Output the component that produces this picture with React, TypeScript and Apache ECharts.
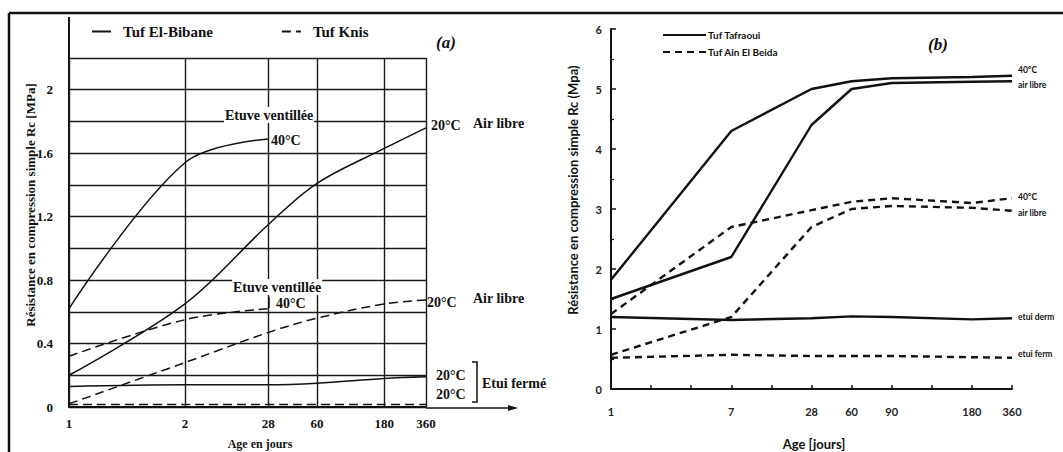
import React, { useEffect, useRef } from "react";
import * as echarts from "echarts";

// ---------- Panel (a) ----------
const agesA = [1, 2, 28, 60, 180, 360];
// location of each age tick along panel (a)'s non-uniform age axis
const axisPosA = [0, 1, 1.72, 2.14, 2.72, 3.08];
const bibane40 = [0.62, 1.54, 1.69]; // ages 1, 2, 28
const bibane20 = [0.2, 0.65, 1.15, 1.41, 1.63, 1.76];
const bibaneEtui = [0.13, 0.14, 0.14, 0.15, 0.18, 0.19];
const knis40 = [0.32, 0.55, 0.62]; // ages 1, 2, 28
const knis20 = [0.02, 0.28, 0.47, 0.56, 0.65, 0.675];
const knisEtui = [0.015, 0.015, 0.015, 0.015, 0.015, 0.015];

// ---------- Panel (b) ----------
const agesB = [1, 7, 28, 60, 90, 180, 360];
const tickLabelsB = ["1", "", "", "7", "", "28", "60", "90", "", "180", "360"];
const tafraoui40 = [1.82, 4.3, 5.0, 5.13, 5.18, 5.2, 5.22];
const tafraouiAir = [1.5, 2.2, 4.4, 5.0, 5.1, 5.12, 5.13];
const tafraouiEtui = [1.2, 1.15, 1.18, 1.21, 1.2, 1.16, 1.18];
const beida40 = [1.25, 2.7, 2.98, 3.12, 3.18, 3.1, 3.18];
const beidaAir = [0.57, 1.2, 2.7, 3.0, 3.05, 3.02, 2.97];
const beidaEtui = [0.52, 0.57, 0.55, 0.55, 0.55, 0.53, 0.52];

const SERIF = "'Liberation Serif', 'Times New Roman', serif";
const SANS = "Lato, 'Open Sans', sans-serif";

const posA = (age: number) => axisPosA[agesA.indexOf(age)];
const posB = (age: number) => tickLabelsB.indexOf(String(age));

const ptsA = (vals: number[]) => vals.map((v, i) => [posA(agesA[i]), v]);
const ptsB = (vals: number[]) => vals.map((v, i) => [posB(agesB[i]), v]);

export default function App() {
  const ref = useRef<HTMLDivElement>(null);
  useEffect(() => {
    if (!ref.current) return;
    const chart = echarts.init(ref.current, undefined, { renderer: "svg" });

    const lineA = (name: string, data: number[][], dashed: boolean, extra: any = {}) => ({
      type: "line",
      name,
      xAxisIndex: 0,
      yAxisIndex: 0,
      data,
      smooth: 0.35,
      symbol: "none",
      lineStyle: { color: "#111", width: 1.5, type: dashed ? [9, 5] : "solid" },
      itemStyle: { color: "#111" },
      z: 3,
      ...extra,
    });
    const lineB = (name: string, data: number[][], dashed: boolean) => ({
      type: "line",
      name,
      xAxisIndex: 1,
      yAxisIndex: 1,
      data,
      symbol: "none",
      lineStyle: { color: "#111", width: 2.4, type: dashed ? [7, 5] : "solid" },
      itemStyle: { color: "#111" },
      z: 3,
    });

    const txt = (text: string, x: number, y: number, style: any = {}, extra: any = {}) => ({
      type: "text",
      x,
      y,
      z: 50,
      style: {
        text,
        fill: "#111",
        verticalAlign: "middle",
        fontFamily: SERIF,
        fontWeight: "bold",
        fontSize: 14,
        ...style,
      },
      ...extra,
    });
    const ln = (x1: number, y1: number, x2: number, y2: number, w = 2) => ({
      type: "line",
      z: 50,
      shape: { x1, y1, x2, y2 },
      style: { stroke: "#111", lineWidth: w },
    });

    const option: any = {
      animation: false,
      backgroundColor: "#fff",
      grid: [
        { left: 69, top: 58, width: 357, height: 349 },
        { left: 611, top: 29, width: 401, height: 360 },
      ],
      legend: [
        {
          left: 86,
          top: 19,
          itemWidth: 19,
          itemHeight: 10,
          itemGap: 68,
          data: ["Tuf El-Bibane", "Tuf Knis"],
          itemStyle: { opacity: 0 },
          textStyle: { fontFamily: SERIF, fontWeight: "bold", fontSize: 15, color: "#111", padding: [0, 0, 0, 7] },
        },
        {
          left: 657,
          top: 25,
          orient: "vertical",
          itemWidth: 43,
          itemHeight: 10,
          itemGap: 7,
          data: ["Tuf Tafraoui", "Tuf Ain El Beida"],
          itemStyle: { opacity: 0 },
          textStyle: { fontFamily: SANS, fontWeight: "bold", fontSize: 10, color: "#111", padding: [0, 0, 0, -3] },
        },
      ],
      xAxis: [
        {
          type: "value",
          gridIndex: 0,
          min: 0,
          max: axisPosA[axisPosA.length - 1],
          axisLine: { show: true, lineStyle: { color: "#111", width: 2 } },
          axisTick: { show: false },
          splitLine: { show: false },
          axisLabel: {
            customValues: axisPosA,
            formatter: (v: number) => {
              const i = axisPosA.findIndex((p) => Math.abs(p - v) < 1e-6);
              return i >= 0 ? String(agesA[i]) : "";
            },
            margin: 10,
            color: "#111",
            fontFamily: SERIF,
            fontWeight: "bold",
            fontSize: 13,
          },
        },
        {
          type: "value",
          gridIndex: 1,
          min: 0,
          max: tickLabelsB.length - 1,
          interval: 1,
          axisLine: { show: true, lineStyle: { color: "#111", width: 2 } },
          axisTick: { show: true, inside: true, length: 4, lineStyle: { color: "#111", width: 1.5 } },
          splitLine: { show: false },
          axisLabel: {
            formatter: (v: number) => tickLabelsB[Math.round(v)] ?? "",
            margin: 17,
            color: "#222",
            fontFamily: SANS,
            fontWeight: "bold",
            fontSize: 11,
          },
        },
      ],
      yAxis: [
        {
          type: "value",
          gridIndex: 0,
          min: 0,
          max: 2.2,
          interval: 0.2,
          axisLine: { show: true, lineStyle: { color: "#111", width: 2 } },
          axisTick: { show: false },
          splitLine: { show: true, lineStyle: { color: "#1a1a1a", width: 1.4 } },
          axisLabel: {
            formatter: (v: number) => {
              const t = Math.round(v * 10);
              return t % 4 === 0 && t <= 20 ? String(t / 10) : "";
            },
            margin: 16,
            color: "#111",
            fontFamily: SERIF,
            fontWeight: "bold",
            fontSize: 13,
          },
        },
        {
          type: "value",
          gridIndex: 1,
          min: 0,
          max: 6,
          interval: 1,
          axisLine: { show: true, lineStyle: { color: "#111", width: 2 } },
          axisTick: { show: true, inside: true, length: 5, lineStyle: { color: "#111", width: 1.5 } },
          minorTick: { show: true, splitNumber: 2, length: 3, lineStyle: { color: "#111", width: 1.2 } },
          splitLine: { show: false },
          axisLabel: {
            margin: 9,
            color: "#222",
            fontFamily: SANS,
            fontWeight: "bold",
            fontSize: 11,
          },
        },
      ],
      series: [
        lineA("Tuf El-Bibane", ptsA(bibane20), false, {
          markLine: {
            silent: true,
            symbol: "none",
            label: { show: false },
            lineStyle: { color: "#1a1a1a", width: 1.4, type: "solid" },
            data: axisPosA.map((p) => ({ xAxis: p })),
          },
        }),
        lineA("Tuf El-Bibane", ptsA(bibane40), false),
        lineA("Tuf El-Bibane", ptsA(bibaneEtui), false),
        lineA("Tuf Knis", ptsA(knis40), true),
        lineA("Tuf Knis", ptsA(knis20), true),
        lineA("Tuf Knis", ptsA(knisEtui), true),
        lineB("Tuf Tafraoui", ptsB(tafraoui40), false),
        lineB("Tuf Tafraoui", ptsB(tafraouiAir), false),
        lineB("Tuf Tafraoui", ptsB(tafraouiEtui), false),
        lineB("Tuf Ain El Beida", ptsB(beida40), true),
        lineB("Tuf Ain El Beida", ptsB(beidaAir), true),
        lineB("Tuf Ain El Beida", ptsB(beidaEtui), true),
      ],
      graphic: [
        // outer frame
        ln(9, 13, 1063, 13, 2.5),
        ln(9, 13, 9, 452, 2.5),
        // panel (a) axis extensions
        ln(69, 58, 69, 17, 2),
        ln(426, 408, 512, 408, 1.6),
        {
          type: "polygon",
          z: 50,
          shape: { points: [[518, 408], [508, 405], [508, 411]] },
          style: { fill: "#111" },
        },
        // panel (a) annotations
        txt("(a)", 436, 42, { fontStyle: "italic", fontSize: 17 }),
        txt("Etuve ventillée", 224, 115, { backgroundColor: "#fff", padding: [1, 1] }),
        txt("40°C", 271, 140),
        txt("20°C", 431, 125),
        txt("Air libre", 473, 123),
        txt("Etuve ventillée", 232, 287, { backgroundColor: "#fff", padding: [1, 1] }),
        ln(269, 297, 269, 308, 1.5),
        txt("40°C", 276, 303),
        txt("20°C", 427, 302),
        txt("Air libre", 473, 298),
        txt("20°C", 436, 375),
        txt("20°C", 436, 394),
        {
          type: "polyline",
          z: 50,
          shape: { points: [[472, 362], [477, 362], [477, 402], [472, 402]] },
          style: { stroke: "#111", lineWidth: 1.5, fill: null },
        },
        txt("Etui fermé", 482, 383),
        txt("Age en jours", 260, 444, { align: "center", fontSize: 12 }),
        txt("Résistance en compression simple Rc [MPa]", 30, 205, { align: "center", fontSize: 13 }, { rotation: Math.PI / 2 }),
        // panel (b) annotations
        txt("(b)", 928, 44, { fontStyle: "italic", fontSize: 17 }),
        txt("40°C", 1018, 70, { fontFamily: SANS, fontSize: 8.5 }),
        txt("air libre", 1018, 85, { fontFamily: SANS, fontSize: 8.5 }),
        txt("40°C", 1018, 197, { fontFamily: SANS, fontSize: 8.5 }),
        txt("air libre", 1018, 213, { fontFamily: SANS, fontSize: 8.5 }),
        txt("etui derm", 1018, 317, { fontFamily: SANS, fontSize: 8.5 }),
        txt("etui ferm", 1018, 354, { fontFamily: SANS, fontSize: 8.5 }),
        txt("Age [jours]", 814, 444, { align: "center", fontFamily: SANS, fontSize: 13 }),
        txt("Résistance en compression simple Rc (Mpa)", 573, 190, { align: "center", fontFamily: SANS, fontSize: 13 }, { rotation: Math.PI / 2 }),
      ],
    };
    chart.setOption(option);
    return () => chart.dispose();
  }, []);
  return (
    <div
      ref={ref}
      style={{ position: "fixed", left: 0, top: 0, width: 1063, height: 452, background: "#fff" }}
    />
  );
}
